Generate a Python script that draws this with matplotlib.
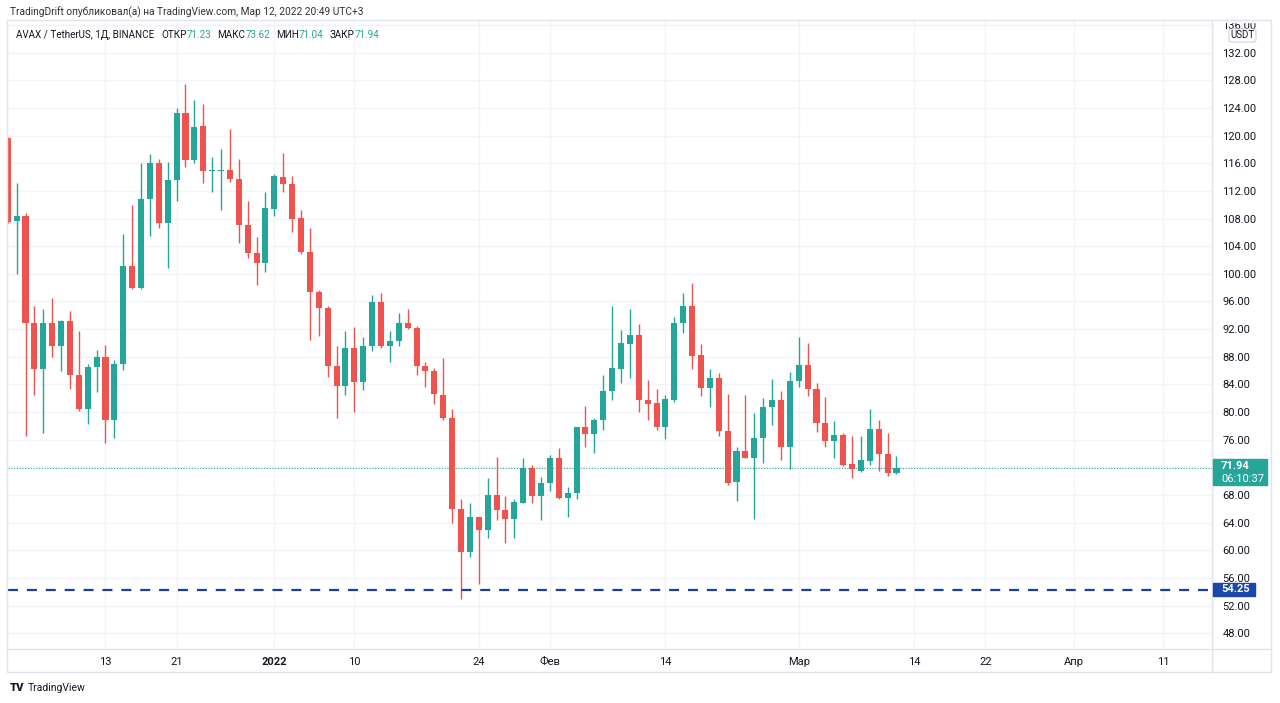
import matplotlib
matplotlib.use('Agg')
import matplotlib.pyplot as plt
import matplotlib.dates as mdates
from matplotlib.patches import Rectangle, FancyBboxPatch
import pandas as pd
import numpy as np

# AVAX / USDT daily, 2 Dec 2021 .. 12 Mar 2022
dates = pd.date_range('2021-12-02', '2022-03-12', freq='D')
opens = [119.6, 107.6, 108.4, 92.9, 86.3, 92.9, 89.5, 93.2, 85.4, 80.5,
         86.5, 88.0, 78.9, 87.0, 101.2, 98.0, 110.8, 116.1, 107.4, 113.6,
         123.2, 116.5, 121.4, 114.9, 114.9, 115.0, 113.7, 107.0, 103.0, 101.6,
         109.4, 114.0, 113.0, 108.1, 103.2, 97.4, 95.0, 86.7, 83.8, 89.3,
         84.3, 89.5, 95.9, 89.5, 90.3, 92.9, 92.1, 86.6, 85.9, 82.5,
         79.2, 66.0, 59.7, 64.8, 63.0, 68.0, 65.9, 64.6, 66.9, 71.9,
         67.8, 69.8, 73.4, 67.6, 68.3, 77.8, 76.8, 78.8, 83.1, 86.3,
         89.9, 91.2, 81.8, 81.3, 77.8, 81.7, 92.9, 95.3, 88.2, 83.5,
         85.0, 77.3, 69.9, 74.4, 73.4, 76.3, 80.8, 81.8, 75.0, 84.5,
         86.8, 83.4, 78.4, 75.8, 76.7, 72.5, 71.5, 72.9, 77.6, 73.9,
         71.23]
highs = [119.8, 113.1, 108.8, 95.3, 94.9, 96.5, 93.3, 94.6, 91.7, 87.0,
         89.0, 89.7, 87.5, 105.7, 110.0, 116.0, 117.4, 116.6, 116.2, 124.0,
         127.4, 125.1, 124.6, 116.9, 118.0, 120.9, 116.6, 110.6, 105.4, 111.9,
         114.5, 117.5, 114.1, 109.2, 106.6, 97.6, 95.4, 89.5, 91.8, 92.3,
         90.9, 96.9, 97.3, 91.7, 94.4, 94.9, 92.4, 87.3, 86.4, 87.8,
         80.5, 67.4, 66.8, 64.8, 70.5, 73.5, 67.9, 67.5, 73.4, 72.4,
         70.6, 73.8, 74.8, 69.2, 77.9, 80.9, 79.2, 85.4, 95.4, 91.9,
         94.9, 92.7, 84.7, 83.3, 82.5, 93.7, 97.2, 98.7, 89.9, 86.3,
         85.6, 82.6, 74.9, 82.5, 79.9, 82.1, 84.8, 83.0, 85.8, 90.9,
         90.0, 84.2, 82.2, 78.7, 77.0, 76.6, 76.6, 80.5, 78.9, 77.0,
         73.62]
lows = [107.3, 100.0, 76.6, 82.5, 77.0, 88.0, 86.0, 83.4, 80.2, 78.3,
        82.9, 75.5, 76.3, 86.1, 97.8, 97.8, 105.5, 106.6, 100.9, 110.6,
        115.5, 116.1, 113.2, 111.9, 109.2, 113.3, 104.4, 102.3, 98.4, 100.2,
        108.4, 111.9, 106.1, 102.8, 90.4, 91.0, 85.1, 79.2, 82.5, 80.0,
        83.2, 88.8, 89.2, 87.3, 89.6, 92.0, 85.4, 83.7, 81.1, 78.8,
        63.9, 53.0, 59.0, 55.2, 61.8, 64.4, 61.1, 61.8, 66.9, 66.9,
        64.4, 68.6, 67.4, 64.8, 67.4, 74.9, 74.1, 77.4, 81.7, 84.2,
        84.9, 80.0, 78.8, 77.4, 76.1, 81.4, 91.5, 86.3, 82.3, 80.8,
        76.6, 69.4, 67.2, 73.3, 64.5, 72.7, 78.1, 73.1, 71.8, 83.6,
        82.4, 77.1, 75.0, 73.4, 72.2, 70.5, 71.3, 72.4, 71.5, 70.8,
        71.04]
closes = [107.5, 108.4, 92.9, 86.3, 92.9, 89.5, 93.2, 85.4, 80.5, 86.5,
          88.0, 78.9, 87.0, 101.2, 98.0, 110.8, 116.1, 107.4, 113.6, 123.2,
          116.5, 121.3, 114.9, 115.0, 115.0, 113.7, 107.0, 103.0, 101.6, 109.5,
          114.2, 113.0, 108.0, 103.1, 97.4, 95.0, 86.6, 83.8, 89.3, 84.3,
          89.5, 95.9, 89.5, 90.3, 92.9, 92.1, 86.6, 85.9, 82.6, 79.2,
          66.0, 59.7, 64.8, 63.0, 68.0, 65.9, 64.6, 67.0, 71.9, 67.9,
          69.8, 73.4, 67.6, 68.3, 77.8, 76.8, 78.9, 83.1, 86.4, 90.0,
          91.1, 81.7, 81.2, 77.8, 81.9, 92.9, 95.3, 88.1, 83.5, 85.0,
          77.2, 69.8, 74.4, 73.4, 76.3, 80.8, 81.8, 75.0, 84.5, 86.8,
          83.4, 78.4, 75.8, 76.7, 72.4, 71.7, 73.0, 77.6, 73.9, 71.2,
          71.94]

last_price = 71.94
level = 54.25
tick_dates = ['2021-12-13', '2021-12-21', '2022-01-01', '2022-01-10', '2022-01-24',
              '2022-02-01', '2022-02-14', '2022-03-01', '2022-03-14', '2022-03-22',
              '2022-04-01', '2022-04-11']
tick_labels = ['13', '21', '2022', '10', '24', 'Фев', '14', 'Мар', '14', '22', 'Апр', '11']
price_ticks = list(range(48, 137, 4))

UP = '#26a69a'
DOWN = '#ef5350'
GRID = '#f3f4f7'
BORDER = '#e0e3eb'
TXT = '#131722'
W, H = 1280, 703

plt.rcParams['font.family'] = ['Roboto', 'DejaVu Sans']

fig = plt.figure(figsize=(W / 100, H / 100), dpi=100)
fig.patch.set_facecolor('white')


def fx(x):
    return x / W


def fy(y):
    return 1 - y / H


ax = fig.add_axes([fx(8), fy(649), fx(1212) - fx(8), fy(20) - fy(649)])
ax.set_facecolor('white')

x = mdates.date2num(dates)
o = np.array(opens)
c = np.array(closes)
colors = [UP if cc >= oo else DOWN for oo, cc in zip(o, c)]
ax.vlines(x, lows, highs, colors=colors, linewidth=1, zorder=3)
body = np.maximum(np.abs(c - o), 0.18)
ax.bar(x, body, bottom=np.minimum(o, c), width=0.68, color=colors,
       linewidth=0, zorder=4)

ax.axhline(last_price, color=UP, linewidth=0.8, linestyle=(0, (1, 1.5)), zorder=2)
ax.axhline(level, color='#1d3f96', linewidth=1.6, linestyle=(0, (4.5, 4)), zorder=5)

x0 = mdates.date2num(pd.Timestamp('2021-12-13'))
ax.set_xlim(x0 - 10.97, x0 + 124.5)
ax.set_ylim(45.73, 136.72)

ax.set_xticks(mdates.date2num(pd.to_datetime(tick_dates)))
ax.set_xticklabels(tick_labels)
for lab in ax.get_xticklabels():
    lab.set_fontsize(8)
    lab.set_color(TXT)
    if lab.get_text() == '2022':
        lab.set_fontweight('bold')
ax.yaxis.tick_right()
ax.set_yticks(price_ticks)
ax.set_yticklabels(['%.2f' % p for p in price_ticks])
ax.tick_params(axis='y', length=0, pad=7.5, labelsize=8, labelcolor=TXT)
ax.tick_params(axis='x', length=0, pad=5.5)
for lab in ax.get_yticklabels():
    lab.set_horizontalalignment('left')
ax.grid(True, color=GRID, linewidth=1, zorder=0)
ax.set_axisbelow(True)
for s in ax.spines.values():
    s.set_visible(False)

# white strip above the pane hides the top of the cut "136.00"
fig.patches.append(Rectangle((fx(1213), fy(22)), fx(1270) - fx(1213), fy(0) - fy(22),
                             transform=fig.transFigure, color='white', zorder=4))

# frame of the chart pane
fig.patches.append(Rectangle((fx(7), fy(672)), fx(1271) - fx(7), fy(20) - fy(672),
                             transform=fig.transFigure, fill=False,
                             edgecolor=BORDER, linewidth=1, zorder=5))
fig.add_artist(plt.Line2D([fx(1212), fx(1212)], [fy(20), fy(672)], color=BORDER, linewidth=1))
fig.add_artist(plt.Line2D([fx(7), fx(1271)], [fy(649), fy(649)], color=BORDER, linewidth=1))

# price labels on the right scale
fig.patches.append(Rectangle((fx(1213), fy(485)), fx(1267) - fx(1213), fy(459) - fy(485),
                             transform=fig.transFigure, color=UP, zorder=5))
fig.text(fx(1221), fy(466), '%.2f' % last_price, color='white', fontsize=8,
         fontweight='bold', va='center', zorder=6)
fig.text(fx(1221), fy(479), '06:10:37', color='white', fontsize=8, va='center', zorder=6)
fig.patches.append(Rectangle((fx(1213), fy(596)), fx(1255) - fx(1213), fy(583) - fy(596),
                             transform=fig.transFigure, color='#1848a8', zorder=5))
fig.text(fx(1221), fy(589.5), '%.2f' % level, color='white', fontsize=8,
         fontweight='bold', va='center', zorder=6)
fig.patches.append(FancyBboxPatch((fx(1229), fy(42)), fx(1256) - fx(1229), fy(29) - fy(42),
                                  boxstyle='round,pad=0,rounding_size=0.003',
                                  transform=fig.transFigure, facecolor='white',
                                  edgecolor='#d1d4dc', linewidth=0.8, zorder=5))
fig.text(fx(1242.5), fy(35.5), 'USDT', color=TXT, fontsize=7, ha='center', va='center', zorder=6)

# header
fig.text(fx(10), fy(12), 'TradingDrift опубликовал(а) на TradingView.com, Мар 12, 2022 20:49 UTC+3',
         fontsize=7.3, color='#333333', va='center')

# legend line, pieces placed one after another
renderer = fig.canvas.get_renderer()
legend = [('AVAX / TetherUS, 1Д, BINANCE', TXT, 7), ('ОТКР', TXT, 0), ('71.23', UP, 6),
          ('МАКС', TXT, 0), ('73.62', UP, 6), ('МИН', TXT, 0), ('71.04', UP, 6),
          ('ЗАКР', TXT, 0), ('71.94', UP, 0)]
xcur = 16
for t, col, gap in legend:
    tt = fig.text(fx(xcur), fy(35), t, fontsize=7.1, color=col, va='center')
    bb = tt.get_window_extent(renderer)
    xcur = bb.x1 + gap

# footer logo
fig.text(fx(10), fy(688), 'TV', fontsize=8, fontweight='black', color=TXT, va='center')
fig.text(fx(28), fy(688), 'TradingView', fontsize=7.5, color=TXT, va='center')

fig.savefig('out.png', dpi=100, facecolor='white')
